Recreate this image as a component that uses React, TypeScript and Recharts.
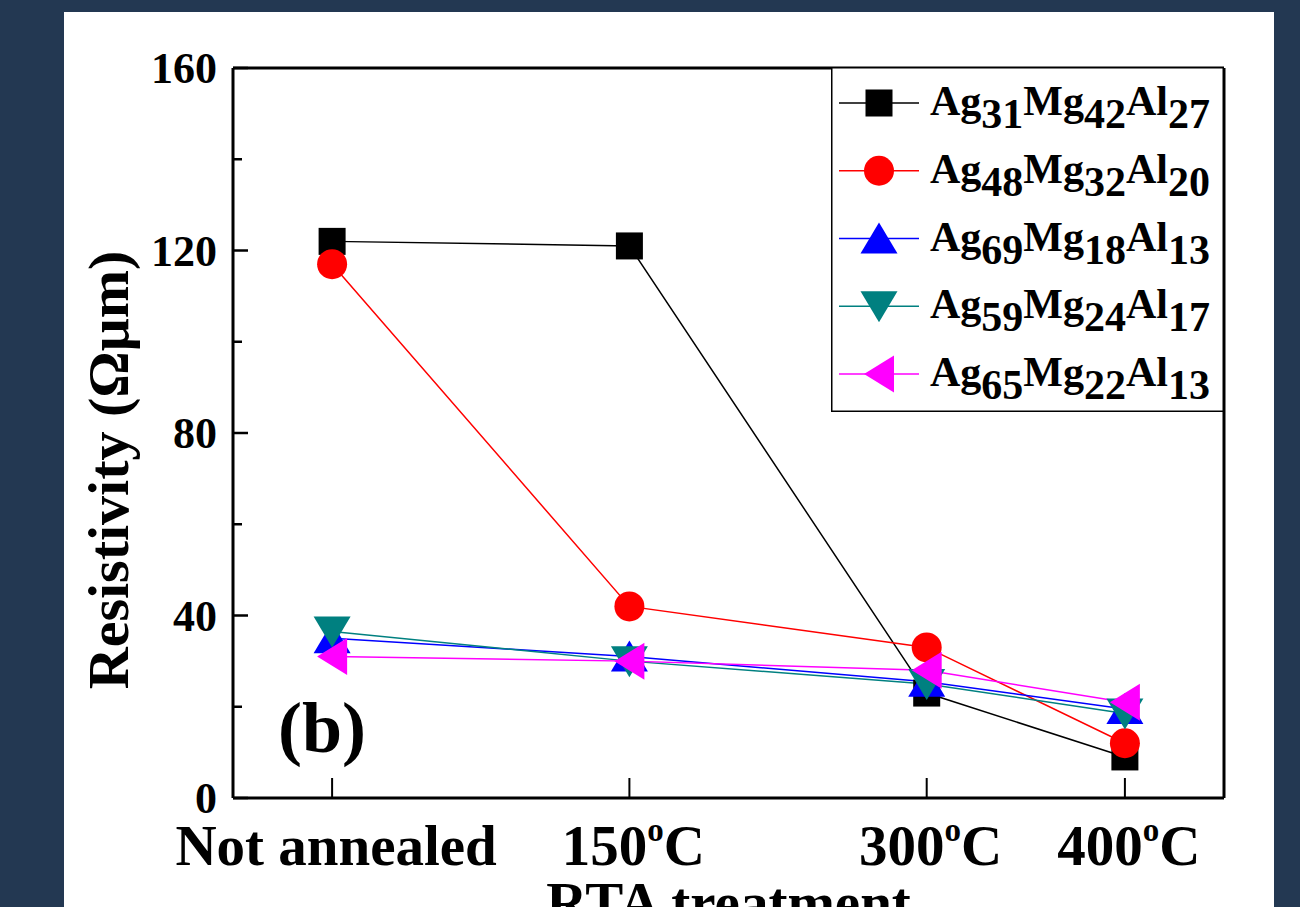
import React from 'react';
import { LineChart, Line, XAxis, YAxis, Legend } from 'recharts';

// RTA temperature (0 = not annealed)
const temps = [0, 150, 300, 400];
const xTickLabels = ['Not annealed', '150^oC', '300^oC', '400^oC'];
const yTicks = [0, 20, 40, 60, 80, 100, 120, 140, 160];

// resistivity (Ohm um) per composition
const ag31 = [122, 121, 23, 9];
const ag48 = [117, 42, 33, 12];
const ag69 = [35, 31, 25.5, 19.5];
const ag59 = [36.5, 30, 25, 18.5];
const ag65 = [31, 30, 28, 21];

const seriesNames = ['Ag31Mg42Al27', 'Ag48Mg32Al20', 'Ag69Mg18Al13', 'Ag59Mg24Al17', 'Ag65Mg22Al13'];
const seriesColors = ['#000000', '#ff0000', '#0000ff', '#008080', '#ff00ff'];
const seriesShapes = ['square', 'circle', 'up', 'down', 'left'];
const seriesValues = [ag31, ag48, ag69, ag59, ag65];

const data = temps.map((t, i) => {
  const row: any = { t };
  seriesValues.forEach((vals, s) => {
    row[`s${s}`] = vals[i];
  });
  return row;
});

const FONT = '"Liberation Serif", "Times New Roman", serif';

const Marker = ({ cx, cy, shape, color }: any) => {
  if (cx == null || cy == null) return null;
  switch (shape) {
    case 'square':
      return <rect x={cx - 13.5} y={cy - 13.5} width={27} height={27} fill={color} />;
    case 'circle':
      return <circle cx={cx} cy={cy} r={15} fill={color} />;
    case 'up':
      return <polygon points={`${cx},${cy - 16} ${cx + 18.5},${cy + 15} ${cx - 18.5},${cy + 15}`} fill={color} />;
    case 'down':
      return <polygon points={`${cx - 18.5},${cy - 15} ${cx + 18.5},${cy - 15} ${cx},${cy + 16}`} fill={color} />;
    default:
      return <polygon points={`${cx - 15},${cy} ${cx + 15},${cy - 18.5} ${cx + 15},${cy + 18.5}`} fill={color} />;
  }
};

// chemical formula with subscript numbers
const formula = (name: string) => {
  const parts = Array.from(name.matchAll(/([A-Za-z]+)(\d+)/g));
  const out: any[] = [];
  parts.forEach((m, i) => {
    out.push(<tspan key={`e${i}`} dy={i === 0 ? 0 : -13}>{m[1]}</tspan>);
    out.push(<tspan key={`n${i}`} dy={13}>{m[2]}</tspan>);
  });
  return out;
};

const LeftTick = (props: any) => {
  const { x, y, payload } = props;
  const major = payload.value % 40 === 0;
  return (
    <g>
      <line x1={x} x2={x + (major ? 15 : 9)} y1={y} y2={y} stroke="#000" strokeWidth={2.5} />
      {major && (
        <text x={x - 16} y={y + 15} textAnchor="end" fontSize={44} fontWeight="bold" fill="#000" fontFamily={FONT}>
          {payload.value}
        </text>
      )}
    </g>
  );
};

const RightTick = (props: any) => {
  const { x, y, payload } = props;
  const major = payload.value % 40 === 0;
  return <line x1={x} x2={x - (major ? 14 : 7)} y1={y} y2={y} stroke="#000" strokeWidth={2.5} />;
};

const BottomTick = (props: any) => {
  const { x, y, payload } = props;
  const label = xTickLabels[temps.indexOf(payload.value)] || '';
  const [main, rest] = label.split('^');
  return (
    <g>
      <line x1={x} x2={x} y1={y} y2={y - 20} stroke="#000" strokeWidth={2} />
      <text x={x + 4} y={y + 67} textAnchor="middle" fontSize={57} fontWeight="bold" fill="#000" fontFamily={FONT}>
        <tspan>{main}</tspan>
        {rest && (
          <>
            <tspan fontSize={33} dy={-24}>{rest[0]}</tspan>
            <tspan dy={24}>{rest.slice(1)}</tspan>
          </>
        )}
      </text>
    </g>
  );
};

const renderLegend = () => (
  <svg width={393} height={345} style={{ display: 'block' }}>
    <rect x={0.75} y={0.75} width={391.5} height={343.5} fill="#fff" stroke="#000" strokeWidth={1.5} />
    {seriesNames.map((name, i) => {
      const cy = 36 + i * 67.75;
      return (
        <g key={name}>
          <line x1={8} x2={88} y1={cy} y2={cy} stroke={seriesColors[i]} strokeWidth={1.5} />
          <Marker cx={48} cy={cy} shape={seriesShapes[i]} color={seriesColors[i]} />
          <text x={99} y={cy + 12} fontSize={42} fontWeight="bold" fill="#000" fontFamily={FONT}>
            {formula(name)}
          </text>
        </g>
      );
    })}
  </svg>
);

export default function App() {
  return (
    <div style={{ position: 'absolute', left: 0, top: 0, width: 1300, height: 907, background: '#233852', overflow: 'hidden' }}>
      <div style={{ position: 'absolute', left: 64, top: 12, width: 1210, height: 895, background: '#fff' }} />
      <div style={{ position: 'absolute', left: 0, top: 0 }}>
        <LineChart width={1300} height={907} data={data} margin={{ top: 0, right: 0, bottom: 0, left: 0 }} style={{ fontFamily: FONT }}>
          <XAxis
            dataKey="t"
            type="number"
            domain={[-50, 450]}
            ticks={temps}
            height={109}
            tickSize={0}
            tickMargin={0}
            tickLine={false}
            axisLine={{ stroke: '#000', strokeWidth: 3 }}
            tick={<BottomTick />}
            interval={0}
            label={(p: any) => {
              const vb = p.viewBox || { x: 233, width: 991, y: 798 };
              return (
                <text x={vb.x + vb.width / 2} y={922} textAnchor="middle" fontSize={57} fontWeight="bold" fill="#000" fontFamily={FONT}>
                  RTA treatment
                </text>
              );
            }}
          />
          <XAxis
            xAxisId="top"
            orientation="top"
            dataKey="t"
            type="number"
            domain={[-50, 450]}
            height={68}
            tick={false}
            tickLine={false}
            axisLine={{ stroke: '#000', strokeWidth: 3 }}
          />
          <YAxis
            type="number"
            domain={[0, 160]}
            ticks={yTicks}
            width={233}
            tickSize={0}
            tickMargin={0}
            tickLine={false}
            axisLine={{ stroke: '#000', strokeWidth: 3 }}
            tick={<LeftTick />}
            interval={0}
            label={() => (
              <text
                transform="rotate(-90)"
                x={-470}
                y={128}
                textAnchor="middle"
                fontSize={58}
                fontWeight="bold"
                fill="#000"
                fontFamily={FONT}
              >
                Resistivity (Ωμm)
              </text>
            )}
          />
          <YAxis
            yAxisId="r"
            orientation="right"
            type="number"
            domain={[0, 160]}
            ticks={yTicks}
            width={76}
            tickSize={0}
            tickMargin={0}
            tickLine={false}
            axisLine={{ stroke: '#000', strokeWidth: 3 }}
            tick={<RightTick />}
            interval={0}
          />
          {seriesNames.map((name, s) => (
            <Line
              key={name}
              dataKey={`s${s}`}
              name={name}
              stroke={seriesColors[s]}
              strokeWidth={1.5}
              isAnimationActive={false}
              dot={(p: any) => (
                <Marker key={`${name}-${p.index}`} cx={p.cx} cy={p.cy} shape={seriesShapes[s]} color={seriesColors[s]} />
              )}
              activeDot={false}
            />
          ))}
          <text x={278} y={752} fontSize={72} fontWeight="bold" fill="#000" fontFamily={FONT}>
            (b)
          </text>
          <Legend
            content={renderLegend}
            layout="horizontal"
            verticalAlign="middle"
            align="center"
            wrapperStyle={{ position: 'absolute', left: 831, top: 67, width: 393, height: 345 }}
          />
        </LineChart>
      </div>
    </div>
  );
}
